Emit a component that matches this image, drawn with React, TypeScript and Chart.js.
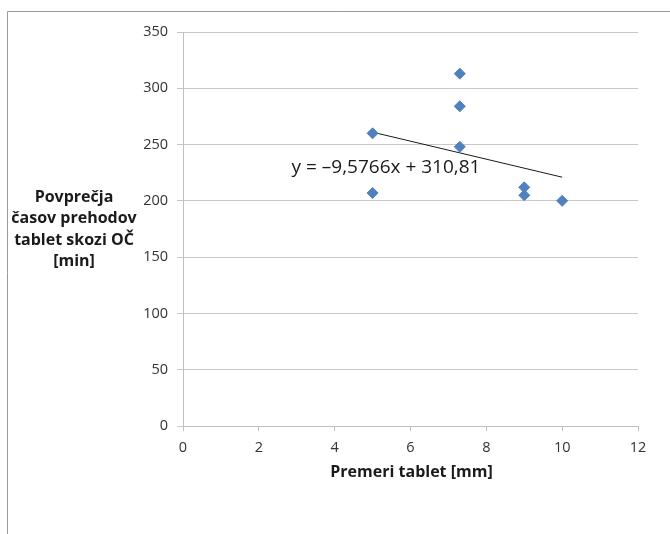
import React, { useEffect, useRef } from "react";
import { Chart, registerables } from "chart.js";

Chart.register(...registerables);

// Data
const diameters = [5, 5, 7.3, 7.3, 7.3, 9, 9, 10];
const avgTimes = [260, 207, 313, 284, 248, 212, 205, 200];

const xTicks = { min: 0, max: 12, step: 2 };
const yTicks = { min: 0, max: 350, step: 50 };

const xTitle = "Premeri tablet [mm]";
const yTitleLines = ["Povprečja", "časov prehodov", "tablet skozi OČ", "[min]"];
const equationText = "y = –9,5766x + 310,81";

const FONT = "'Open Sans', 'Noto Sans', sans-serif";

function linearFit(xs: number[], ys: number[]) {
  const n = xs.length;
  const mx = xs.reduce((a, b) => a + b, 0) / n;
  const my = ys.reduce((a, b) => a + b, 0) / n;
  let sxy = 0;
  let sxx = 0;
  for (let i = 0; i < n; i++) {
    sxy += (xs[i] - mx) * (ys[i] - my);
    sxx += (xs[i] - mx) * (xs[i] - mx);
  }
  const slope = sxy / sxx;
  return { slope, intercept: my - slope * mx };
}

const decorPlugin = {
  id: "decor",
  afterDraw(chart: any) {
    const ctx = chart.ctx as CanvasRenderingContext2D;
    const area = chart.chartArea;
    ctx.save();
    // frame
    ctx.strokeStyle = "#9a9a9a";
    ctx.lineWidth = 1;
    ctx.beginPath();
    ctx.moveTo(7.5, chart.height);
    ctx.lineTo(7.5, 11.5);
    ctx.lineTo(chart.width, 11.5);
    ctx.stroke();

    // y title
    ctx.fillStyle = "#1a1a1a";
    ctx.font = `bold 16px ${FONT}`;
    ctx.textAlign = "center";
    ctx.textBaseline = "middle";
    const lh = 21.5;
    const startY = 197;
    yTitleLines.forEach((l, i) => ctx.fillText(l, 74, startY + i * lh));

    // x title
    ctx.fillText(xTitle, (area.left + area.right) / 2 + 1, 472);

    // equation
    ctx.font = `19px ${FONT}`;
    ctx.fillStyle = "#1a1a1a";
    ctx.fillText(equationText, 386, 168);
    ctx.restore();
  },
};

export default function App() {
  const ref = useRef<HTMLCanvasElement | null>(null);

  useEffect(() => {
    document.body.style.margin = "0";
    if (!ref.current) return;
    const fit = linearFit(diameters, avgTimes);
    const xMin = Math.min(...diameters);
    const xMax = Math.max(...diameters);
    const trend = [xMin, xMax].map((x) => ({ x, y: fit.slope * x + fit.intercept }));

    const chart = new Chart(ref.current, {
      type: "scatter",
      data: {
        datasets: [
          {
            label: "Povprečja",
            data: diameters.map((x, i) => ({ x, y: avgTimes[i] })),
            pointStyle: "rectRot",
            pointRadius: 5.5,
            pointBackgroundColor: "#4F81BD",
            pointBorderColor: "#4F81BD",
            pointBorderWidth: 1,
            showLine: false,
          },
          {
            label: "Trend",
            type: "line",
            data: trend,
            borderColor: "#1a1a1a",
            borderWidth: 1,
            pointRadius: 0,
            fill: false,
          } as any,
        ],
      },
      options: {
        animation: false,
        responsive: false,
        devicePixelRatio: 1,
        layout: { padding: { left: 0, top: 32, right: 32, bottom: 0 } },
        plugins: {
          legend: { display: false },
          tooltip: { enabled: false },
        },
        scales: {
          x: {
            type: "linear",
            min: xTicks.min,
            max: xTicks.max,
            ticks: {
              stepSize: xTicks.step,
              font: { family: FONT, size: 14.5 },
              color: "#333333",
              padding: 8,
            },
            grid: {
              drawOnChartArea: false,
              drawTicks: true,
              tickLength: 5,
              color: "#bfbfbf",
            },
            border: { color: "#bfbfbf" },
            afterFit: (s: any) => {
              s.height = 108;
            },
          },
          y: {
            type: "linear",
            min: yTicks.min,
            max: yTicks.max,
            ticks: {
              stepSize: yTicks.step,
              font: { family: FONT, size: 14.5 },
              color: "#333333",
              padding: 9,
            },
            grid: {
              color: "#c8c8c8",
              tickLength: 6,
            },
            border: { color: "#bfbfbf" },
            afterFit: (s: any) => {
              s.width = 183;
            },
          },
        },
      },
      plugins: [decorPlugin],
    });
    return () => chart.destroy();
  }, []);

  return <canvas ref={ref} width={670} height={534} style={{ display: "block" }} />;
}
